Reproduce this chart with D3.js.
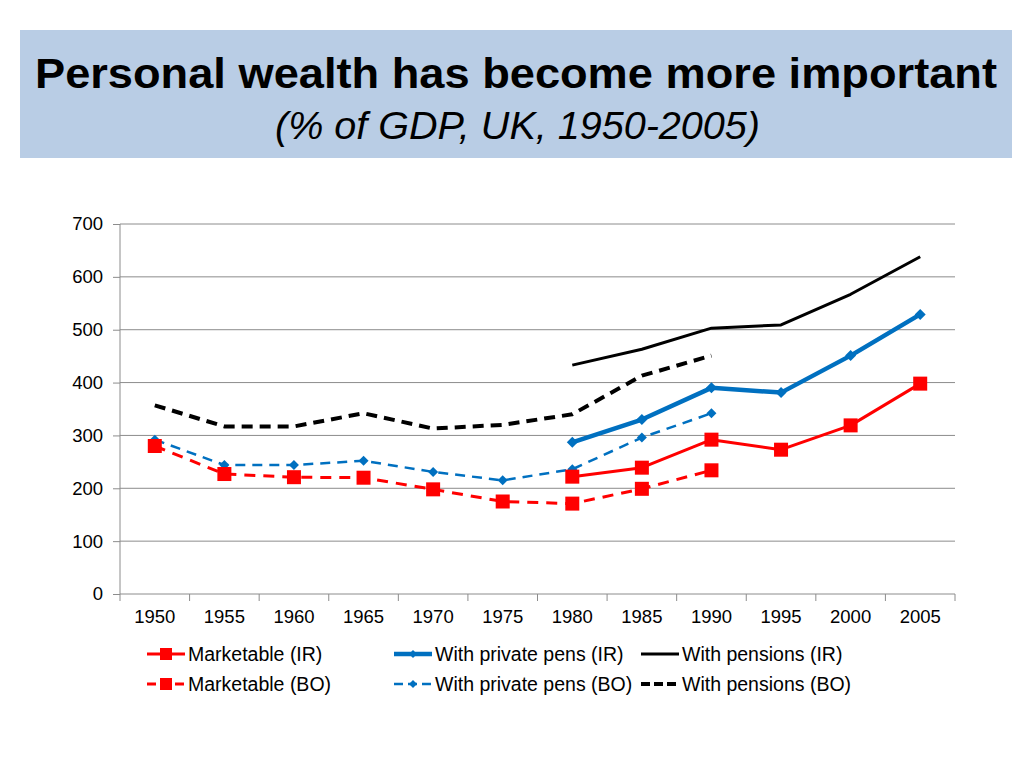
<!DOCTYPE html>
<html><head><meta charset="utf-8">
<script src="https://cdn.jsdelivr.net/npm/d3@7"></script>
<style>body{margin:0;background:#fff;}svg{display:block;font-family:"Liberation Sans",Arial,sans-serif;}</style>
</head><body><svg id="c" width="1024" height="768"></svg>
<script>
const years = ["1950","1955","1960","1965","1970","1975","1980","1985","1990","1995","2000","2005"];
const yTicks = [0,100,200,300,400,500,600,700];
const marketableIR = [null,null,null,null,null,null,222,239,292,273,319,398];
const marketableBO = [280,227,221,220,198,175,171,199,234,null,null,null];
const privPensIR = [null,null,null,null,null,null,287,330,390,381,451,529];
const privPensBO = [292,244,244,252,231,215,236,296,342,null,null,null];
const pensionsIR = [null,null,null,null,null,null,433,463,503,509,567,638];
const pensionsBO = [357,317,317,342,313,320,340,413,451,null,null,null];
const seriesNames = ["Marketable (IR)","Marketable (BO)","With private pens (IR)","With private pens (BO)","With pensions (IR)","With pensions (BO)"];

const svg = d3.select("#c");
// Title box
svg.append("rect").attr("x",20).attr("y",30).attr("width",992).attr("height",128).attr("fill","#b9cde5");
svg.append("text").attr("x",35).attr("y",88).attr("font-size",42).attr("font-weight","bold")
  .attr("textLength",962).attr("lengthAdjust","spacingAndGlyphs").text("Personal wealth has become more important");
svg.append("text").attr("x",275).attr("y",139).attr("font-size",38).attr("font-style","italic")
  .attr("textLength",485).attr("lengthAdjust","spacingAndGlyphs").text("(% of GDP, UK, 1950-2005)");

const pL=120,pR=955,pT=224,pB=594;
const x = d3.scaleBand().domain(years).range([pL,pR]).padding(0);
const y = d3.scaleLinear().domain([0,700]).range([pB,pT]);
const cx = d => x(d)+x.bandwidth()/2;

// grid
svg.append("g").selectAll("line").data(yTicks.filter(t=>t>0)).join("line")
  .attr("x1",pL).attr("x2",pR).attr("y1",d=>y(d)).attr("y2",d=>y(d))
  .attr("stroke","#8c8c8c").attr("stroke-width",1);

// y axis
const ya = svg.append("g").attr("transform",`translate(${pL},0)`)
  .call(d3.axisLeft(y).tickValues(yTicks).tickSize(7).tickPadding(10));
ya.select(".domain").attr("stroke","#8c8c8c").attr("d",`M0,${pT}V${pB}`);
ya.selectAll(".tick line").attr("stroke","#8c8c8c");
ya.selectAll("text").attr("font-size",18.5).attr("fill","#000").attr("font-family","Liberation Sans, Arial, sans-serif");

// x axis
const xa = svg.append("g").attr("transform",`translate(0,${pB})`)
  .call(d3.axisBottom(x).tickSize(0).tickPadding(16));
xa.select(".domain").attr("stroke","#8c8c8c").attr("d",`M${pL},0H${pR}`);
xa.selectAll("text").attr("font-size",18.5).attr("fill","#000").attr("font-family","Liberation Sans, Arial, sans-serif");
const bounds = years.map(d=>x(d)).concat([pR]);
svg.append("g").selectAll("line").data(bounds).join("line")
  .attr("x1",d=>d).attr("x2",d=>d).attr("y1",pB).attr("y2",pB+7).attr("stroke","#8c8c8c");

const red="#ff0000", blue="#0070c0", black="#000000";
const series = [
  {vals:marketableIR,color:red,w:3,dash:null,marker:"square",ms:14},
  {vals:marketableBO,color:red,w:3,dash:"11,8",marker:"square",ms:14},
  {vals:privPensIR,color:blue,w:4.5,dash:null,marker:"diamond",ms:11},
  {vals:privPensBO,color:blue,w:2.5,dash:"10,7",marker:"diamond",ms:10},
  {vals:pensionsIR,color:black,w:3,dash:null,marker:null},
  {vals:pensionsBO,color:black,w:4,dash:"11,7",marker:null}
];
const line = d3.line().defined(d=>d.v!=null).x(d=>cx(d.k)).y(d=>y(d.v));
const drawOrder=[5,4,3,2,1,0];
function marker(g,type,size,color,px,py){
  if(type==="square"){
    g.append("rect").attr("x",px-size/2).attr("y",py-size/2).attr("width",size).attr("height",size).attr("fill",color);
  } else if(type==="diamond"){
    const h=size/2;
    g.append("path").attr("d",`M${px},${py-h}L${px+h},${py}L${px},${py+h}L${px-h},${py}Z`).attr("fill",color);
  }
}
drawOrder.forEach(i=>{
  const s=series[i];
  const data=years.map((k,j)=>({k,v:s.vals[j]}));
  const g=svg.append("g");
  g.append("path").attr("d",line(data)).attr("fill","none").attr("stroke",s.color)
    .attr("stroke-width",s.w).attr("stroke-dasharray",s.dash).attr("stroke-linejoin","round");
  if(s.marker) data.filter(d=>d.v!=null).forEach(d=>marker(g,s.marker,s.ms,s.color,cx(d.k),y(d.v)));
});

// legend
const legPos=[[147,654],[147,684],[394,654],[394,684],[641,654],[641,684]];
series.forEach((s,i)=>{
  const [lx,ly]=legPos[i];
  const g=svg.append("g");
  g.append("line").attr("x1",lx).attr("x2",lx+38).attr("y1",ly).attr("y2",ly).attr("stroke",s.color)
    .attr("stroke-width",s.w).attr("stroke-dasharray",s.dash?(i===5?"9,4":"9,5"):null);
  if(s.marker) marker(g,s.marker,s.marker==="square"?12:8,s.color,lx+19,ly);
  g.append("text").attr("x",lx+41).attr("y",ly+7).attr("font-size",19.5).text(seriesNames[i]);
});
</script></body></html>
